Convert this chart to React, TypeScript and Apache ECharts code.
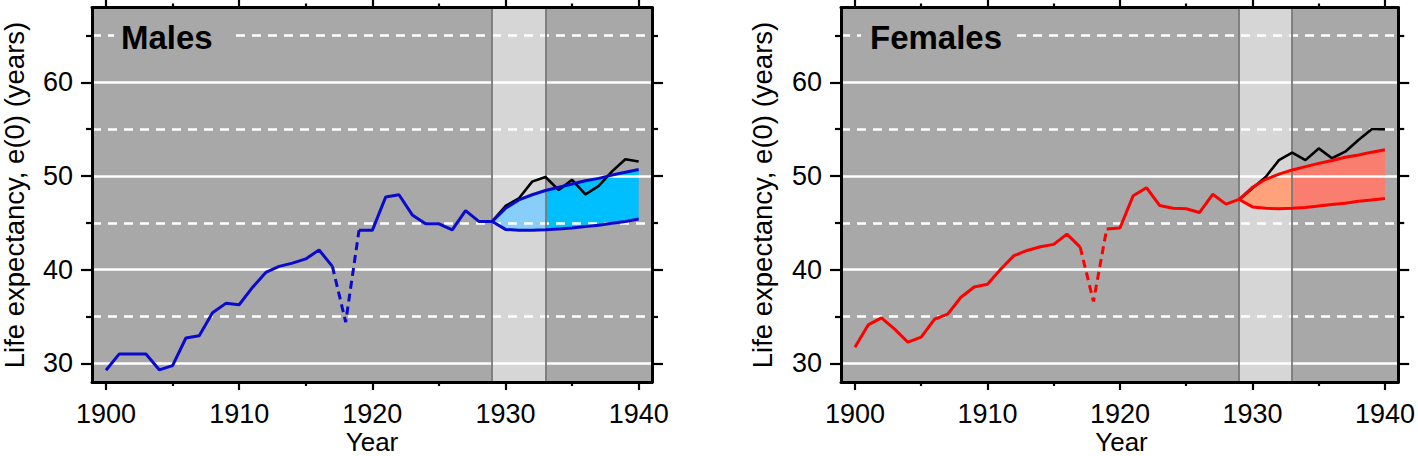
import React, { useEffect, useRef } from "react";
import * as echarts from "echarts";

// ---- data ----
const HIST_START = 1900;
const PROJ_START = 1929;
const X_MIN = 1898.95;
const X_MAX = 1941;
const Y_MIN = 28;
const Y_MAX = 68;

const xMajorTicks = [1900, 1910, 1920, 1930, 1940];
const xMinorTicks = [1905, 1915, 1925, 1935];
const yMajorTicks = [30, 40, 50, 60];
const yMinorTicks = [35, 45, 55, 65];

// 1900..1929
const maleHist = [29.25, 31.0, 31.0, 31.0, 29.3, 29.75, 32.7, 32.95, 35.4, 36.4, 36.25, 38.1, 39.7, 40.35, 40.7, 41.15, 42.1, 40.35, 34.4, 44.2, 44.2, 47.75, 48.0, 45.85, 44.9, 44.9, 44.25, 46.3, 45.15, 45.15];
// 1929..1940
const maleObserved = [45.15, 46.8, 47.6, 49.4, 49.9, 48.5, 49.6, 48.05, 48.95, 50.5, 51.8, 51.55];
const maleUpper = [45.15, 46.55, 47.45, 48.0, 48.45, 48.8, 49.15, 49.5, 49.75, 50.1, 50.4, 50.7];
const maleLower = [45.15, 44.3, 44.2, 44.2, 44.25, 44.35, 44.45, 44.6, 44.75, 44.95, 45.15, 45.4];

const femaleHist = [31.7, 34.1, 34.85, 33.65, 32.25, 32.8, 34.7, 35.25, 37.05, 38.15, 38.45, 40.05, 41.5, 42.05, 42.45, 42.7, 43.8, 42.4, 36.6, 44.35, 44.45, 47.9, 48.75, 46.85, 46.55, 46.5, 46.1, 48.05, 47.0, 47.5];
const femaleObserved = [47.5, 48.7, 49.9, 51.7, 52.5, 51.7, 52.95, 51.9, 52.6, 53.85, 55.0, 55.0];
const femaleUpper = [47.5, 48.8, 49.65, 50.2, 50.65, 51.0, 51.35, 51.65, 52.0, 52.25, 52.55, 52.8];
const femaleLower = [47.5, 46.7, 46.55, 46.5, 46.55, 46.65, 46.8, 46.95, 47.1, 47.3, 47.45, 47.6];

const bandStart = 1929;
const bandEnd = 1933;
const dashedFrom = 1917;
const dashedTo = 1919;

const FONT = "'Liberation Sans', Arial, Helvetica, sans-serif";
const BG = "#a8a8a8";

const pairs = (start: number, arr: number[], from: number, to: number) =>
  arr.slice(from - start, to - start + 1).map((v, i) => [from + i, v]);

function buildPanel(
  gi: number,
  hist: number[],
  obs: number[],
  upper: number[],
  lower: number[],
  lineColor: string,
  fills: string[]
) {
  const ax = 4 * gi;
  const common = { xAxisIndex: ax, yAxisIndex: ax };
  const segs = [
    [0, bandEnd - PROJ_START],
    [bandEnd - PROJ_START, obs.length - 1],
  ];
  const LW = 3;
  const series: any[] = [
    {
      type: "line",
      ...common,
      z: 1,
      data: [],
      silent: true,
      markArea: {
        silent: true,
        itemStyle: { color: "#d6d6d6" },
        data: [[{ xAxis: bandStart }, { xAxis: bandEnd }]],
      },
    },
    {
      type: "line",
      ...common,
      z: 2,
      data: [],
      silent: true,
      markLine: {
        silent: true,
        symbol: "none",
        label: { show: false },
        data: [
          ...yMajorTicks.map((v) => ({ yAxis: v, lineStyle: { color: "#fff", width: 2.5, type: "solid" } })),
          ...yMinorTicks.map((v) => ({ yAxis: v, lineStyle: { color: "#fff", width: 2.5, type: [9, 7] } })),
        ],
      },
    },
    {
      type: "line",
      ...common,
      z: 3,
      data: [],
      silent: true,
      markLine: {
        silent: true,
        symbol: "none",
        label: { show: false },
        lineStyle: { color: "#7a7a7a", width: 1.8, type: "solid" },
        data: [{ xAxis: bandStart }, { xAxis: bandEnd }],
      },
    },
    {
      type: "custom",
      ...common,
      z: 4,
      silent: true,
      data: segs,
      renderItem: (params: any, api: any) => {
        const s = api.value(0);
        const e = api.value(1);
        const pts: number[][] = [];
        for (let i = s; i <= e; i++) pts.push(api.coord([PROJ_START + i, upper[i]]));
        for (let i = e; i >= s; i--) pts.push(api.coord([PROJ_START + i, lower[i]]));
        return { type: "polygon", shape: { points: pts }, style: { fill: fills[params.dataIndex], stroke: null } };
      },
    },
    {
      type: "line",
      ...common,
      z: 5,
      data: obs.map((v, i) => [PROJ_START + i, v]),
      showSymbol: false,
      lineStyle: { color: "#000", width: 2.6 },
    },
    {
      type: "line",
      ...common,
      z: 6,
      data: pairs(HIST_START, hist, HIST_START, dashedFrom),
      showSymbol: false,
      lineStyle: { color: lineColor, width: LW },
    },
    {
      type: "line",
      ...common,
      z: 6,
      data: pairs(HIST_START, hist, dashedFrom, dashedTo),
      showSymbol: false,
      lineStyle: { color: lineColor, width: LW, type: [8, 5] },
    },
    {
      type: "line",
      ...common,
      z: 6,
      data: pairs(HIST_START, hist, dashedTo, PROJ_START),
      showSymbol: false,
      lineStyle: { color: lineColor, width: LW },
    },
    {
      type: "line",
      ...common,
      z: 6,
      data: upper.map((v, i) => [PROJ_START + i, v]),
      showSymbol: false,
      lineStyle: { color: lineColor, width: LW },
    },
    {
      type: "line",
      ...common,
      z: 6,
      data: lower.map((v, i) => [PROJ_START + i, v]),
      showSymbol: false,
      lineStyle: { color: lineColor, width: LW },
    },
  ];
  return series;
}

const fmt = (v: number) => String(Math.round(v));

function xAxisDef(gi: number, pos: string, ticks: number[], len: number, showLine: boolean, showLabel: boolean) {
  return {
    type: "value",
    gridIndex: gi,
    position: pos,
    min: X_MIN,
    max: X_MAX,
    z: 10,
    axisLine: { show: showLine, onZero: false, lineStyle: { color: "#000", width: 3 } },
    axisTick: { show: true, inside: false, length: len, customValues: ticks, lineStyle: { color: "#000", width: 2.2 } },
    axisLabel: {
      show: showLabel,
      customValues: ticks,
      formatter: fmt,
      margin: 21,
      fontSize: 27,
      lineHeight: 22,
      fontFamily: FONT,
      color: "#000",
    },
    splitLine: { show: false },
  };
}

function yAxisDef(gi: number, pos: string, ticks: number[], len: number, showLine: boolean, showLabel: boolean) {
  return {
    type: "value",
    gridIndex: gi,
    position: pos,
    min: Y_MIN,
    max: Y_MAX,
    z: 10,
    axisLine: { show: showLine, onZero: false, lineStyle: { color: "#000", width: 3 } },
    axisTick: { show: true, inside: false, length: len, customValues: ticks, lineStyle: { color: "#000", width: 2.2 } },
    axisLabel: {
      show: showLabel,
      customValues: ticks,
      formatter: fmt,
      margin: 19,
      fontSize: 27,
      fontFamily: FONT,
      color: "#000",
    },
    splitLine: { show: false },
  };
}

export default function App() {
  const ref = useRef<HTMLDivElement>(null);
  useEffect(() => {
    if (!ref.current) return;
    const chart = echarts.init(ref.current, null, { renderer: "svg" });
    const grids = [
      { left: 92, right: 1418 - 652, top: 7.5, bottom: 456 - 382 },
      { left: 841, right: 1418 - 1402, top: 7.5, bottom: 456 - 382 },
    ];
    const xAxes: any[] = [];
    const yAxes: any[] = [];
    for (let gi = 0; gi < 2; gi++) {
      xAxes.push(xAxisDef(gi, "bottom", xMajorTicks, 8, true, true));
      xAxes.push(xAxisDef(gi, "bottom", xMinorTicks, 4, false, false));
      xAxes.push(xAxisDef(gi, "top", xMajorTicks, 8, true, false));
      xAxes.push(xAxisDef(gi, "top", xMinorTicks, 4, false, false));
      yAxes.push(yAxisDef(gi, "left", yMajorTicks, 11, true, true));
      yAxes.push(yAxisDef(gi, "left", yMinorTicks, 6, false, false));
      yAxes.push(yAxisDef(gi, "right", yMajorTicks, 11, true, false));
      yAxes.push(yAxisDef(gi, "right", yMinorTicks, 6, false, false));
    }
    const series = [
      ...buildPanel(0, maleHist, maleObserved, maleUpper, maleLower, "#0a0acd", ["#87cefa", "#00bfff"]),
      ...buildPanel(1, femaleHist, femaleObserved, femaleUpper, femaleLower, "#ff0000", ["#ffa27c", "#fa7e70"]),
    ];
    const yLabel = "Life expectancy, e(0) (years)";
    const graphic: any[] = [
      { type: "rect", z: 100, shape: { x: 114, y: 22, width: 119, height: 26 }, style: { fill: BG } },
      { type: "rect", z: 100, shape: { x: 861, y: 22, width: 152, height: 26 }, style: { fill: BG } },
      {
        type: "text", z: 101, x: 121, y: 37,
        style: { text: "Males", font: `bold 33px ${FONT}`, fill: "#000", align: "left", verticalAlign: "middle" },
      },
      {
        type: "text", z: 101, x: 870, y: 37,
        style: { text: "Females", font: `bold 33px ${FONT}`, fill: "#000", align: "left", verticalAlign: "middle" },
      },
      {
        type: "text", z: 101, x: 14, y: 195, rotation: Math.PI / 2,
        style: { text: yLabel, font: `27.5px ${FONT}`, fill: "#000", align: "center", verticalAlign: "middle" },
      },
      {
        type: "text", z: 101, x: 762, y: 195, rotation: Math.PI / 2,
        style: { text: yLabel, font: `27.5px ${FONT}`, fill: "#000", align: "center", verticalAlign: "middle" },
      },
      {
        type: "text", z: 101, x: 372, y: 442,
        style: { text: "Year", font: `26px ${FONT}`, lineHeight: 22, fill: "#000", align: "center", verticalAlign: "middle" },
      },
      {
        type: "text", z: 101, x: 1121.5, y: 442,
        style: { text: "Year", font: `26px ${FONT}`, lineHeight: 22, fill: "#000", align: "center", verticalAlign: "middle" },
      },
    ];
    chart.setOption({
      animation: false,
      backgroundColor: "#fff",
      grid: grids.map((g) => ({ ...g, show: true, backgroundColor: BG, borderWidth: 0 })),
      xAxis: xAxes,
      yAxis: yAxes,
      series,
      graphic,
    });
    return () => chart.dispose();
  }, []);
  return <div ref={ref} style={{ position: "fixed", left: 0, top: 0, width: 1418, height: 456 }} />;
}
